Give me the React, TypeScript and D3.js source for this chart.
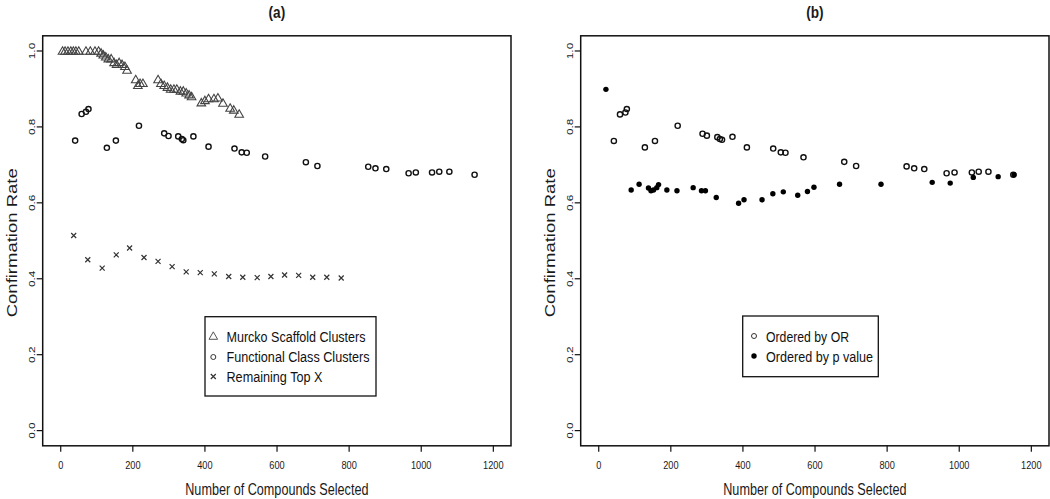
import React from "react";
import * as d3 from "d3";

const xTicks = [0, 200, 400, 600, 800, 1000, 1200];
const yTicks = [0, 0.2, 0.4, 0.6, 0.8, 1.0];

const murckoX = [5, 12, 20, 28, 35, 42, 50, 70, 82, 95, 105, 112, 118, 125, 132, 140, 148, 155, 162, 170, 178, 184, 208, 214, 220, 228, 270, 278, 287, 296, 305, 314, 322, 332, 340, 348, 356, 363, 390, 400, 410, 425, 436, 450, 470, 480, 495];
const murckoY = [1, 1, 1, 1, 1, 1, 1, 1, 1, 1, 1, 0.995, 0.99, 0.985, 0.98, 0.98, 0.97, 0.965, 0.97, 0.965, 0.96, 0.95, 0.925, 0.91, 0.915, 0.915, 0.925, 0.915, 0.91, 0.905, 0.9, 0.9, 0.9, 0.895, 0.895, 0.89, 0.885, 0.88, 0.864, 0.87, 0.875, 0.875, 0.877, 0.863, 0.85, 0.845, 0.834];

const funcX = [40, 58, 70, 77, 128, 153, 217, 287, 299, 326, 336, 340, 368, 410, 482, 502, 516, 567, 680, 712, 853, 873, 903, 965, 985, 1030, 1050, 1078, 1148];
const funcY = [0.764, 0.834, 0.84, 0.847, 0.745, 0.764, 0.803, 0.783, 0.776, 0.775, 0.768, 0.765, 0.775, 0.748, 0.743, 0.733, 0.732, 0.722, 0.707, 0.697, 0.695, 0.691, 0.689, 0.678, 0.68, 0.68, 0.682, 0.682, 0.674];

const topX = [36, 75, 115, 154, 191, 231, 270, 309, 348, 387, 426, 466, 505, 545, 583, 621, 660, 699, 738, 778];
const topY = [0.514, 0.45, 0.428, 0.463, 0.481, 0.456, 0.446, 0.432, 0.418, 0.416, 0.413, 0.406, 0.404, 0.403, 0.406, 0.41, 0.409, 0.404, 0.404, 0.402];

const orX = [42, 59, 74, 78, 128, 156, 219, 288, 300, 329, 336, 342, 371, 411, 484, 505, 518, 568, 681, 714, 854, 875, 903, 965, 987, 1035, 1054, 1081, 1150];
const orY = [0.763, 0.833, 0.838, 0.847, 0.746, 0.763, 0.803, 0.782, 0.777, 0.773, 0.768, 0.766, 0.774, 0.746, 0.743, 0.733, 0.732, 0.72, 0.708, 0.697, 0.696, 0.691, 0.689, 0.678, 0.68, 0.68, 0.682, 0.682, 0.674];

const pX = [20, 90, 112, 138, 145, 152, 161, 166, 189, 217, 262, 285, 296, 326, 388, 403, 453, 483, 512, 552, 579, 597, 668, 783, 925, 975, 1039, 1108, 1152];
const pY = [0.899, 0.634, 0.649, 0.639, 0.632, 0.634, 0.64, 0.648, 0.634, 0.632, 0.64, 0.632, 0.632, 0.614, 0.599, 0.608, 0.608, 0.624, 0.629, 0.62, 0.63, 0.641, 0.649, 0.649, 0.654, 0.652, 0.667, 0.669, 0.674];

const legendA = ["Murcko Scaffold Clusters", "Functional Class Clusters", "Remaining Top X"];
const legendB = ["Ordered by OR", "Ordered by p value"];

const FONT = "'Liberation Sans', Arial, sans-serif";
const SX = 0.78;
const W = 1050;
const H = 499;
const BOX_W = 468.3;
const TOP = 35.8;
const BOTTOM = 445.8;

const tri = d3.symbol().type(d3.symbolTriangle).size(32);

function HText({ x, y, size, children, anchor = "middle", bold = false, sx = SX }: { x: number; y: number; size: number; children: string; anchor?: string; bold?: boolean; sx?: number }) {
  return (
    <text transform={`translate(${x},${y}) scale(${sx},1)`} textAnchor={anchor} fontSize={size} fontWeight={bold ? "bold" : "normal"} fontFamily={FONT} fill="#1a1a1a">
      {children}
    </text>
  );
}

function VText({ x, y, size, children }: { x: number; y: number; size: number; children: string }) {
  return (
    <text transform={`translate(${x},${y}) scale(${SX},1) rotate(-90)`} textAnchor="middle" fontSize={size} fontFamily={FONT} fill="#1a1a1a">
      {children}
    </text>
  );
}

function Panel({ offset, title, children }: { offset: number; title: string; children: (x: d3.ScaleLinear<number, number>, y: d3.ScaleLinear<number, number>) => React.ReactNode }) {
  const left = 42.7 + offset;
  const x = d3.scaleLinear().domain([-50, 1249]).range([left, left + BOX_W]);
  const y = d3.scaleLinear().domain([-0.04, 1.04]).range([BOTTOM, TOP]);
  const cx = left + BOX_W / 2;
  return (
    <g>
      <HText x={cx} y={18} size={16} bold sx={0.85}>{title}</HText>
      <rect x={left} y={TOP} width={BOX_W} height={BOTTOM - TOP} fill="none" stroke="#111" strokeWidth={1.5} />
      {xTicks.map((t) => (
        <g key={"x" + t}>
          <line x1={x(t)} x2={x(t)} y1={BOTTOM} y2={BOTTOM + 6} stroke="#111" strokeWidth={1.2} />
          <HText x={x(t)} y={468.5} size={11.8}>{String(t)}</HText>
        </g>
      ))}
      {yTicks.map((t) => (
        <g key={"y" + t}>
          <line x1={left} x2={left - 6} y1={y(t)} y2={y(t)} stroke="#111" strokeWidth={1.2} />
          <VText x={left - 7.5} y={y(t)} size={11.8}>{t.toFixed(1)}</VText>
        </g>
      ))}
      <HText x={cx} y={495} size={16} sx={0.79}>Number of Compounds Selected</HText>
      <VText x={offset + 16.5} y={(TOP + BOTTOM) / 2 + 2} size={18.5}>Confirmation Rate</VText>
      {children(x, y)}
    </g>
  );
}

function Cross({ cx, cy, s = 2.5 }: { cx: number; cy: number; s?: number }) {
  return (
    <path d={`M${cx - s},${cy - s}L${cx + s},${cy + s}M${cx - s},${cy + s}L${cx + s},${cy - s}`} stroke="#333" strokeWidth={1.2} fill="none" />
  );
}

function LegendText({ x, y, children, width }: { x: number; y: number; children: string; width: number }) {
  return (
    <text x={x} y={y} fontSize={15.2} fontFamily={FONT} fill="#111" textLength={width} lengthAdjust="spacingAndGlyphs">
      {children}
    </text>
  );
}

const legendAWidths = [139, 143, 96];
const legendBWidths = [83, 107];

export default function App() {
  return (
    <svg width={W} height={H} style={{ position: "absolute", left: 0, top: 0, background: "#fff" }}>
      <rect width={W} height={H} fill="#fff" />
      <Panel offset={0} title="(a)">
        {(x, y) => (
          <g>
            {murckoX.map((d, i) => (
              <path key={"m" + i} d={tri() as string} transform={`translate(${x(d)},${y(murckoY[i]) + 0.8})`} fill="none" stroke="#444" strokeWidth={1.1} />
            ))}
            {funcX.map((d, i) => (
              <circle key={"f" + i} cx={x(d)} cy={y(funcY[i])} r={2.6} fill="none" stroke="#111" strokeWidth={1.4} />
            ))}
            {topX.map((d, i) => (
              <Cross key={"t" + i} cx={x(d)} cy={y(topY[i])} />
            ))}
            <rect x={205} y={316.7} width={171} height={79.3} fill="#fff" stroke="#111" strokeWidth={1.3} />
            <path d={tri() as string} transform={`translate(213.3,${336 + 0.8})`} fill="none" stroke="#555" strokeWidth={1} />
            <circle cx={213.3} cy={357} r={2.5} fill="none" stroke="#333" strokeWidth={1} />
            <Cross cx={213.3} cy={376.5} />
            {legendA.map((t, i) => (
              <LegendText key={t} x={226.5} y={341.5 + i * 20.2} width={legendAWidths[i]}>{t}</LegendText>
            ))}
          </g>
        )}
      </Panel>
      <Panel offset={538} title="(b)">
        {(x, y) => (
          <g>
            {orX.map((d, i) => (
              <circle key={"o" + i} cx={x(d)} cy={y(orY[i])} r={2.6} fill="none" stroke="#111" strokeWidth={1.4} />
            ))}
            {pX.map((d, i) => (
              <circle key={"p" + i} cx={x(d)} cy={y(pY[i])} r={2.7} fill="#000" />
            ))}
            <rect x={742.7} y={316} width={135.6} height={60.7} fill="#fff" stroke="#111" strokeWidth={1.3} />
            <circle cx={754} cy={336} r={2.5} fill="none" stroke="#333" strokeWidth={1} />
            <circle cx={754} cy={356} r={2.7} fill="#000" />
            {legendB.map((t, i) => (
              <LegendText key={t} x={766} y={341.5 + i * 20} width={legendBWidths[i]}>{t}</LegendText>
            ))}
          </g>
        )}
      </Panel>
    </svg>
  );
}
